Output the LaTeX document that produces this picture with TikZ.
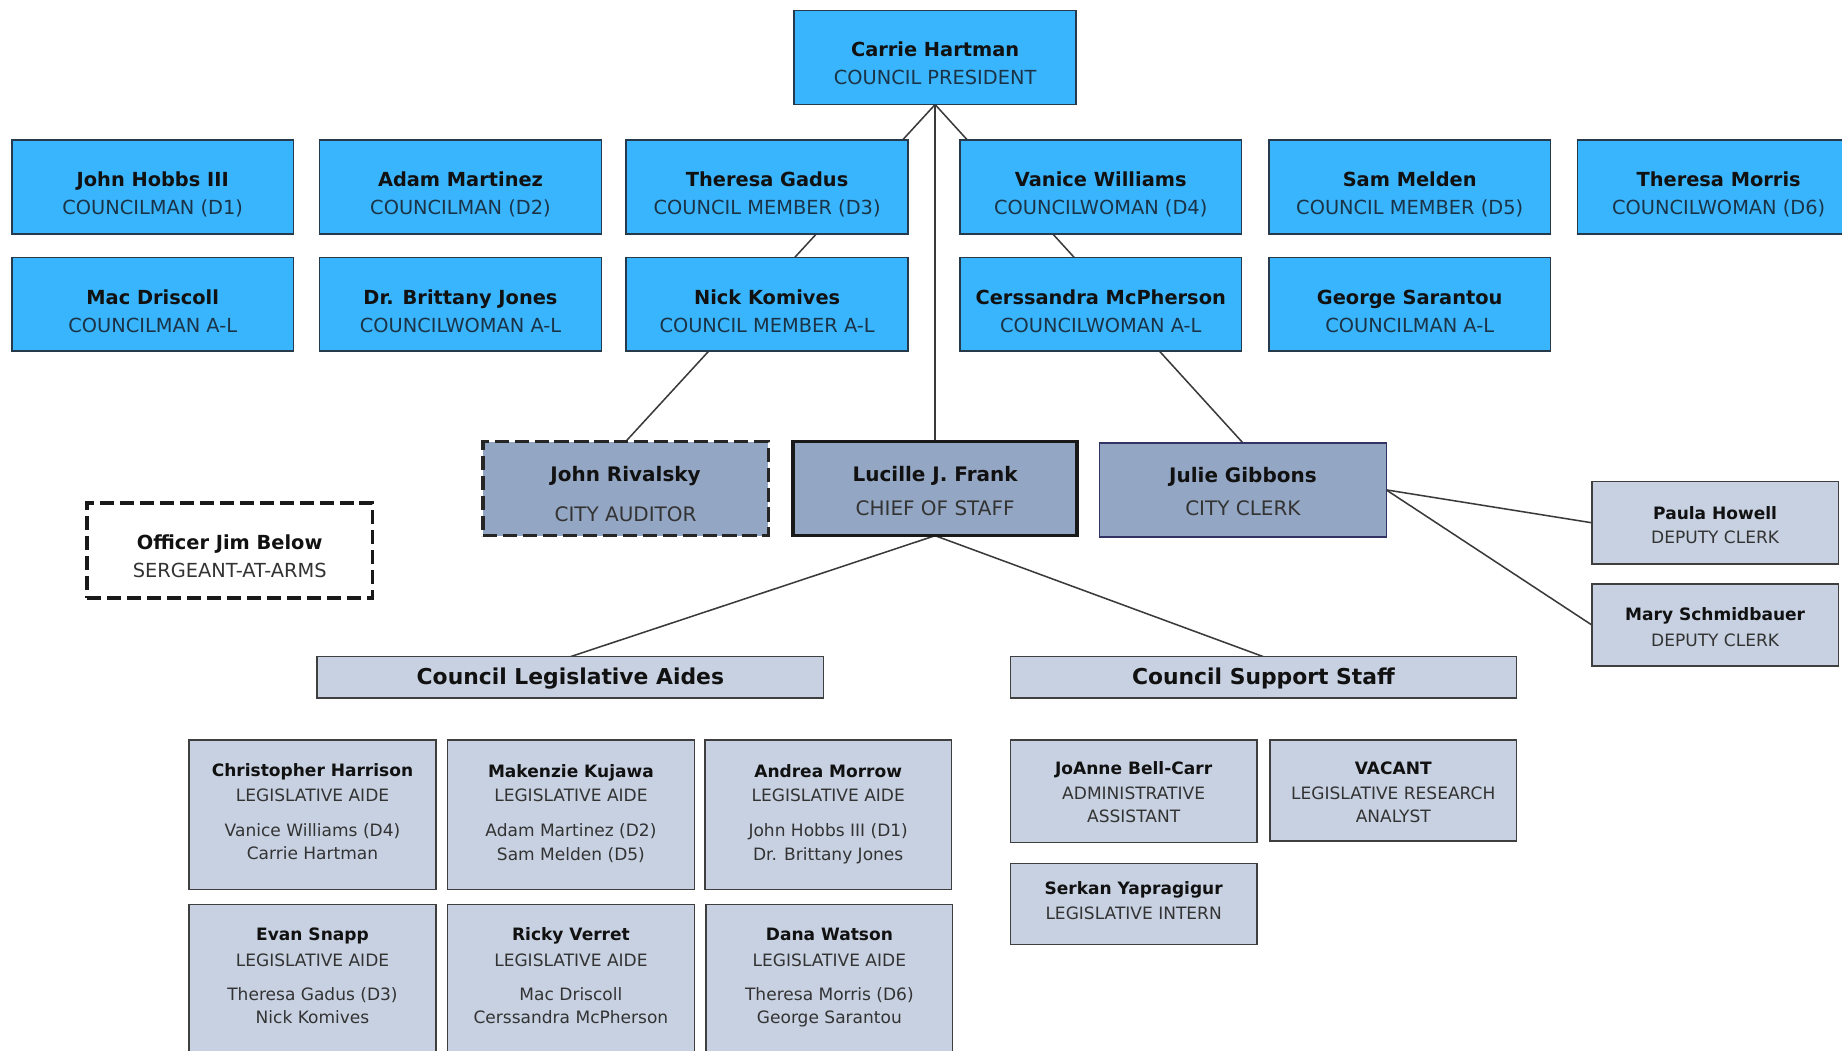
\documentclass[tikz,border=0pt]{standalone}
\usepackage{fontspec}
\setmainfont{DejaVu Sans}
\pgfdeclarelayer{bg}
\pgfdeclarelayer{lines}
\pgfsetlayers{bg,lines,main}
\definecolor{cblue}{HTML}{39B5FD}
\definecolor{cbord}{HTML}{263A4C}
\definecolor{cmid}{HTML}{93A6C3}
\definecolor{clight}{HTML}{C7D1E1}
\definecolor{cgray}{HTML}{3F3F3F}
\definecolor{cline}{HTML}{3A3A3A}
\definecolor{ctext}{HTML}{111111}
\definecolor{crole}{HTML}{333333}
\definecolor{croleb}{HTML}{1B3347}
\tikzset{
  box/.style={rectangle, inner sep=0pt, outer sep=0pt, anchor=north west},
  council/.style={box, fill=cblue, draw=cbord, line width=1.3, minimum width=240, minimum height=80},
  midbox/.style={box, fill=cmid, minimum height=80},
  lightbox/.style={box, fill=clight, draw=cgray, line width=1.3, minimum width=210},
  header/.style={box, fill=clight, draw=cgray, line width=1.3, minimum width=431, minimum height=35},
  conn/.style={draw=cline, line width=1.3},
  nmL/.style={anchor=base, inner sep=0pt, text=ctext, font=\bfseries\fontsize{16.5}{20}\selectfont},
  rlL/.style={anchor=base, inner sep=0pt, text=croleb, font=\fontsize{16.5}{20}\selectfont},
  rlO/.style={anchor=base, inner sep=0pt, text=crole, font=\fontsize{16.5}{20}\selectfont},
  nmM/.style={anchor=base, inner sep=0pt, text=ctext, font=\bfseries\fontsize{17}{20}\selectfont},
  rlM/.style={anchor=base, inner sep=0pt, text=crole, font=\fontsize{17}{20}\selectfont},
  nmS/.style={anchor=base, inner sep=0pt, text=ctext, font=\bfseries\fontsize{14.5}{18}\selectfont},
  rlS/.style={anchor=base, inner sep=0pt, text=crole, font=\fontsize{14.5}{18}\selectfont},
  hdr/.style={anchor=base, inner sep=0pt, text=ctext, font=\bfseries\fontsize{18.6}{22}\selectfont},
}
\newcommand\txt[5]{\node[#1] (#2) at ([yshift=-#3pt]#4.north) {#5};}
\begin{document}
\begin{tikzpicture}[x=1pt,y=-1pt]
\useasboundingbox (0,0) rectangle (1568,894);
\clip (0,0) rectangle (1568,894);
\begin{pgfonlayer}{bg}
\fill[white] (0,0) rectangle (1568,894);
\end{pgfonlayer}

% ---- council
\node[council] (carrie) at (676,9) {};
\txt{nmL}{carrie-n}{39}{carrie}{Carrie Hartman}
\txt{rlL}{carrie-r}{63}{carrie}{COUNCIL PRESIDENT}

\node[council] (hobbs) at (10,119) {};
\txt{nmL}{hobbs-n}{40}{hobbs}{John Hobbs III}
\txt{rlL}{hobbs-r}{64}{hobbs}{COUNCILMAN (D1)}
\node[council] (martinez) at (272,119) {};
\txt{nmL}{martinez-n}{40}{martinez}{Adam Martinez}
\txt{rlL}{martinez-r}{64}{martinez}{COUNCILMAN (D2)}
\node[council] (gadus) at (533,119) {};
\txt{nmL}{gadus-n}{40}{gadus}{Theresa Gadus}
\txt{rlL}{gadus-r}{64}{gadus}{COUNCIL MEMBER (D3)}
\node[council] (vanice) at (817,119) {};
\txt{nmL}{vanice-n}{40}{vanice}{Vanice Williams}
\txt{rlL}{vanice-r}{64}{vanice}{COUNCILWOMAN (D4)}
\node[council] (melden) at (1080,119) {};
\txt{nmL}{melden-n}{40}{melden}{Sam Melden}
\txt{rlL}{melden-r}{64}{melden}{COUNCIL MEMBER (D5)}
\node[council] (morris) at (1343,119) {};
\txt{nmL}{morris-n}{40}{morris}{Theresa Morris}
\txt{rlL}{morris-r}{64}{morris}{COUNCILWOMAN (D6)}

\node[council] (driscoll) at (10,219) {};
\txt{nmL}{driscoll-n}{40}{driscoll}{Mac Driscoll}
\txt{rlL}{driscoll-r}{64}{driscoll}{COUNCILMAN A-L}
\node[council] (jones) at (272,219) {};
\txt{nmL}{jones-n}{40}{jones}{Dr. Brittany Jones}
\txt{rlL}{jones-r}{64}{jones}{COUNCILWOMAN A-L}
\node[council] (komives) at (533,219) {};
\txt{nmL}{komives-n}{40}{komives}{Nick Komives}
\txt{rlL}{komives-r}{64}{komives}{COUNCIL MEMBER A-L}
\node[council] (mcpherson) at (817,219) {};
\txt{nmL}{mcpherson-n}{40}{mcpherson}{Cerssandra McPherson}
\txt{rlL}{mcpherson-r}{64}{mcpherson}{COUNCILWOMAN A-L}
\node[council] (sarantou) at (1080,219) {};
\txt{nmL}{sarantou-n}{40}{sarantou}{George Sarantou}
\txt{rlL}{sarantou-r}{64}{sarantou}{COUNCILMAN A-L}

% ---- middle row
\node[midbox, minimum width=243, draw=black!85, line width=3, dash pattern=on 12pt off 5pt] (rivalsky) at (411,376) {};
\txt{nmM}{rivalsky-n}{34}{rivalsky}{John Rivalsky}
\txt{rlM}{rivalsky-r}{68}{rivalsky}{CITY AUDITOR}
\node[midbox, minimum width=242, draw=black!90, line width=3] (lucille) at (675,376) {};
\txt{nmM}{lucille-n}{34}{lucille}{Lucille J. Frank}
\txt{rlM}{lucille-r}{63}{lucille}{CHIEF OF STAFF}
\node[midbox, minimum width=244, draw=cgray!80!blue, line width=1.2] (julie) at (936,377) {};
\txt{nmM}{julie-n}{34}{julie}{Julie Gibbons}
\txt{rlM}{julie-r}{62}{julie}{CITY CLERK}

\node[box, minimum width=243, minimum height=81, fill=white, draw=black!90, line width=3, dash pattern=on 12pt off 5pt] (officer) at (74,428) {};
\txt{nmL}{officer-n}{40}{officer}{Officer Jim Below}
\txt{rlO}{officer-r}{64}{officer}{SERGEANT-AT-ARMS}

\node[lightbox, minimum height=70] (paula) at (1355,410) {};
\txt{nmS}{paula-n}{32}{paula}{Paula Howell}
\txt{rlS}{paula-r}{53}{paula}{DEPUTY CLERK}
\node[lightbox, minimum height=70] (mary) at (1355,497) {};
\txt{nmS}{mary-n}{31.5}{mary}{Mary Schmidbauer}
\txt{rlS}{mary-r}{53}{mary}{DEPUTY CLERK}

% ---- headers
\node[header] (aides) at (270,559) {};
\txt{hdr}{aides-t}{24}{aides}{Council Legislative Aides}
\node[header] (support) at (860,559) {};
\txt{hdr}{support-t}{24}{support}{Council Support Staff}

% ---- aides
\node[lightbox, minimum height=127] (ch) at (161,630) {};
\txt{nmS}{ch-n}{31}{ch}{Christopher Harrison}
\txt{rlS}{ch-r}{52.5}{ch}{LEGISLATIVE AIDE}
\txt{rlS}{ch-a}{82}{ch}{Vanice Williams (D4)}
\txt{rlS}{ch-b}{101.5}{ch}{Carrie Hartman}
\node[lightbox, minimum height=127] (mk) at (381,630) {};
\txt{nmS}{mk-n}{32}{mk}{Makenzie Kujawa}
\txt{rlS}{mk-r}{52.5}{mk}{LEGISLATIVE AIDE}
\txt{rlS}{mk-a}{82}{mk}{Adam Martinez (D2)}
\txt{rlS}{mk-b}{102.5}{mk}{Sam Melden (D5)}
\node[lightbox, minimum height=127] (am) at (600,630) {};
\txt{nmS}{am-n}{32}{am}{Andrea Morrow}
\txt{rlS}{am-r}{52.5}{am}{LEGISLATIVE AIDE}
\txt{rlS}{am-a}{82}{am}{John Hobbs III (D1)}
\txt{rlS}{am-b}{102.5}{am}{Dr. Brittany Jones}

\node[lightbox, minimum height=127] (es) at (161,770) {};
\txt{nmS}{es-n}{31}{es}{Evan Snapp}
\txt{rlS}{es-r}{52.5}{es}{LEGISLATIVE AIDE}
\txt{rlS}{es-a}{82}{es}{Theresa Gadus (D3)}
\txt{rlS}{es-b}{101.5}{es}{Nick Komives}
\node[lightbox, minimum height=127] (rv) at (381,770) {};
\txt{nmS}{rv-n}{31}{rv}{Ricky Verret}
\txt{rlS}{rv-r}{52.5}{rv}{LEGISLATIVE AIDE}
\txt{rlS}{rv-a}{82}{rv}{Mac Driscoll}
\txt{rlS}{rv-b}{101.5}{rv}{Cerssandra McPherson}
\node[lightbox, minimum height=127] (dw) at (601,770) {};
\txt{nmS}{dw-n}{31}{dw}{Dana Watson}
\txt{rlS}{dw-r}{52.5}{dw}{LEGISLATIVE AIDE}
\txt{rlS}{dw-a}{82}{dw}{Theresa Morris (D6)}
\txt{rlS}{dw-b}{101.5}{dw}{George Sarantou}

% ---- support staff
\node[lightbox, minimum height=87] (joanne) at (860,630) {};
\txt{nmS}{joanne-n}{29}{joanne}{JoAnne Bell-Carr}
\txt{rlS}{joanne-r}{50.5}{joanne}{ADMINISTRATIVE}
\txt{rlS}{joanne-s}{70.5}{joanne}{ASSISTANT}
\node[lightbox, minimum height=86] (vacant) at (1081,630) {};
\txt{nmS}{vacant-n}{29}{vacant}{VACANT}
\txt{rlS}{vacant-r}{50.5}{vacant}{LEGISLATIVE RESEARCH}
\txt{rlS}{vacant-s}{70.5}{vacant}{ANALYST}
\node[lightbox, minimum height=69] (serkan) at (860,735) {};
\txt{nmS}{serkan-n}{26.5}{serkan}{Serkan Yapragigur}
\txt{rlS}{serkan-r}{48}{serkan}{LEGISLATIVE INTERN}

% ---- connectors
\begin{pgfonlayer}{lines}
\draw[conn] (carrie.south) -- (rivalsky.north);
\draw[conn] (carrie.south) -- (julie.north);
\draw[conn] (carrie.south) -- (lucille.north);
\draw[conn] (lucille.south) -- (aides.north);
\draw[conn] (lucille.south) -- (support.north);
\draw[conn] (julie.east) -- (paula.west);
\draw[conn] (julie.east) -- (mary.west);
\end{pgfonlayer}
\end{tikzpicture}
\end{document}
